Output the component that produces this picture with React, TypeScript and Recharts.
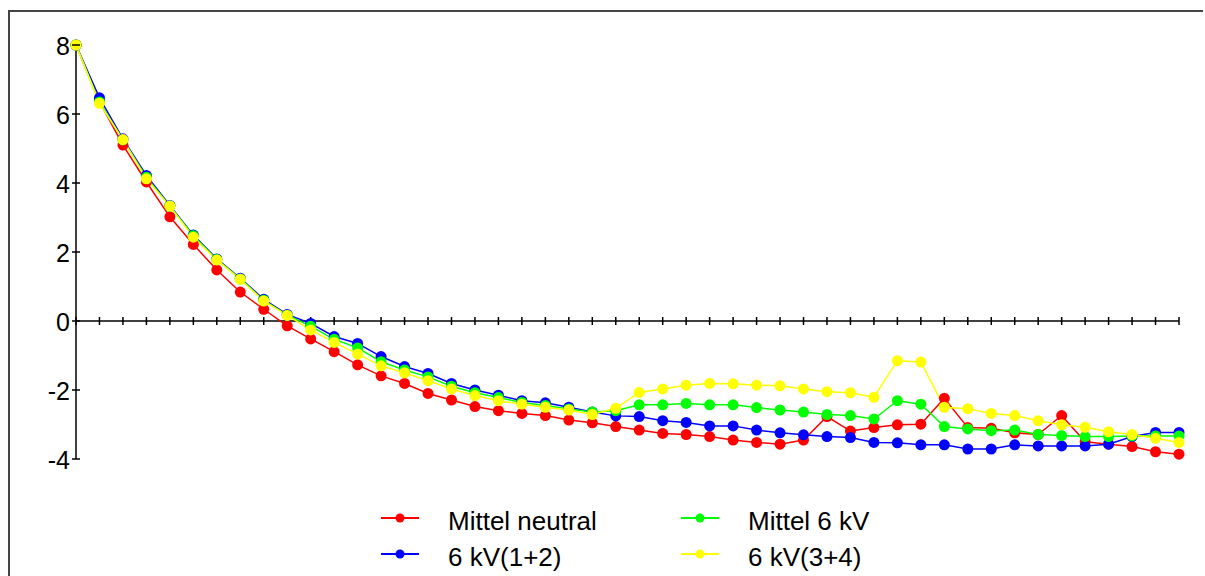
import React from 'react';
import { LineChart, Line, XAxis, YAxis, ReferenceLine, ReferenceDot } from 'recharts';

// Messpunkte 1..48
const categories = [
  1, 2, 3, 4, 5, 6, 7, 8, 9, 10, 11, 12, 13, 14, 15, 16, 17, 18, 19, 20, 21, 22, 23, 24,
  25, 26, 27, 28, 29, 30, 31, 32, 33, 34, 35, 36, 37, 38, 39, 40, 41, 42, 43, 44, 45, 46, 47, 48,
];

const mittelNeutral = [
  8.0, 6.36, 5.1, 4.03, 3.02, 2.22, 1.48, 0.84, 0.34, -0.14, -0.52, -0.89, -1.27, -1.59, -1.81, -2.1,
  -2.29, -2.48, -2.6, -2.68, -2.74, -2.87, -2.95, -3.06, -3.16, -3.26, -3.29, -3.35, -3.45, -3.52, -3.57, -3.45,
  -2.77, -3.19, -3.09, -3.01, -2.99, -2.24, -3.09, -3.11, -3.24, -3.29, -2.74, -3.5, -3.57, -3.64, -3.79, -3.86,
];

const mittel6kV = [
  8.0, 6.35, 5.25, 4.17, 3.33, 2.47, 1.78, 1.22, 0.6, 0.17, -0.15, -0.53, -0.78, -1.18, -1.42, -1.62,
  -1.89, -2.08, -2.22, -2.36, -2.45, -2.55, -2.64, -2.6, -2.43, -2.43, -2.39, -2.43, -2.43, -2.51, -2.58, -2.64,
  -2.71, -2.74, -2.84, -2.31, -2.41, -3.06, -3.13, -3.18, -3.16, -3.29, -3.32, -3.35, -3.35, -3.33, -3.33, -3.33,
];

const kv12 = [
  8.0, 6.47, 5.28, 4.22, 3.35, 2.49, 1.8, 1.24, 0.63, 0.19, -0.07, -0.45, -0.65, -1.03, -1.32, -1.52,
  -1.81, -2.0, -2.15, -2.31, -2.37, -2.5, -2.64, -2.75, -2.77, -2.89, -2.94, -3.04, -3.04, -3.16, -3.24, -3.3,
  -3.35, -3.38, -3.52, -3.53, -3.59, -3.59, -3.71, -3.71, -3.59, -3.62, -3.62, -3.62, -3.57, -3.35, -3.23, -3.23,
];

const kv34 = [
  8.0, 6.31, 5.26, 4.12, 3.33, 2.43, 1.77, 1.21, 0.58, 0.16, -0.26, -0.62, -0.96, -1.3, -1.5, -1.73,
  -1.97, -2.16, -2.31, -2.41, -2.5, -2.58, -2.71, -2.53, -2.07, -1.97, -1.86, -1.81, -1.82, -1.86, -1.88, -1.97,
  -2.05, -2.08, -2.21, -1.15, -1.19, -2.5, -2.54, -2.68, -2.74, -2.89, -3.01, -3.08, -3.21, -3.29, -3.4, -3.52,
];

const yTicks = [-4, -2, 0, 2, 4, 6, 8];

const series = [
  { key: 'mn', name: 'Mittel neutral', color: '#ff0000', values: mittelNeutral },
  { key: 'kv12', name: '6 kV(1+2)', color: '#0000ff', values: kv12 },
  { key: 'm6', name: 'Mittel 6 kV', color: '#00ff00', values: mittel6kV },
  { key: 'kv34', name: '6 kV(3+4)', color: '#ffff00', values: kv34 },
];

// legend order: row by row
const legendOrder = ['mn', 'm6', 'kv12', 'kv34'];

const data = categories.map((n, i) => {
  const row: Record<string, number> = { n };
  series.forEach((s) => {
    row[s.key] = s.values[i];
  });
  return row;
});

const FONT = '"Liberation Sans", Arial, sans-serif';

const YTick = (props: any) => {
  const { x, y, payload } = props;
  return (
    <g>
      <line x1={x + 2} x2={x + 10} y1={y} y2={y} stroke="#000" strokeWidth={1.5} />
      <text x={x} y={y} dy={10} textAnchor="end" fontSize={25} fill="#000" fontFamily={FONT}>
        {payload.value}
      </text>
    </g>
  );
};

const XTickMark = (props: any) => (
  <line x1={props.cx} x2={props.cx} y1={props.cy - 4} y2={props.cy + 4} stroke="#000" strokeWidth={1.5} />
);

export default function App() {
  return (
    <>
      <style>{`body{overflow:hidden}`}</style>
      <div
        style={{
          position: 'absolute',
          left: 8,
          top: 10,
          width: 1193,
          height: 580,
          borderLeft: '2px solid #454545',
          borderTop: '2px solid #454545',
          background: '#fff',
        }}
      >
        <LineChart width={1193} height={560} data={data} margin={{ top: 33, right: 24, left: 6, bottom: 113 }}>
          <XAxis dataKey="n" hide height={0} />
          <YAxis
            domain={[-4, 8]}
            ticks={yTicks}
            width={60}
            tickSize={4}
            tickMargin={2}
            tickLine={false}
            axisLine={{ stroke: '#000', strokeWidth: 1.5 }}
            tick={<YTick />}
            interval={0}
          />
          <ReferenceLine y={0} stroke="#000" strokeWidth={1.5} />
          {categories.map((c) => (
            <ReferenceDot key={c} x={c} y={0} r={4} shape={<XTickMark />} />
          ))}
          {series.map((s) => (
            <Line
              key={s.key}
              dataKey={s.key}
              name={s.name}
              type="linear"
              stroke={s.color}
              strokeWidth={1.5}
              dot={{ r: 5.5, fill: s.color, stroke: s.color, strokeWidth: 0 }}
              activeDot={false}
              isAnimationActive={false}
            />
          ))}
        </LineChart>
        <div
          style={{
            position: 'absolute',
            left: 371,
            top: 491,
            display: 'grid',
            gridTemplateColumns: '300px 300px',
            gridAutoRows: '36px',
            fontFamily: FONT,
            fontSize: 26,
            color: '#000',
          }}
        >
          {legendOrder.map((k) => {
            const s = series.find((x) => x.key === k)!;
            return (
              <div key={k} style={{ display: 'flex', alignItems: 'center', height: 36, whiteSpace: 'nowrap' }}>
                <svg width={38} height={12} style={{ marginTop: -6 }}>
                  <line x1={0} x2={38} y1={6} y2={6} stroke={s.color} strokeWidth={2} />
                  <circle cx={19} cy={6} r={4.5} fill={s.color} />
                </svg>
                <span style={{ marginLeft: 29 }}>{s.name}</span>
              </div>
            );
          })}
        </div>
      </div>
    </>
  );
}
